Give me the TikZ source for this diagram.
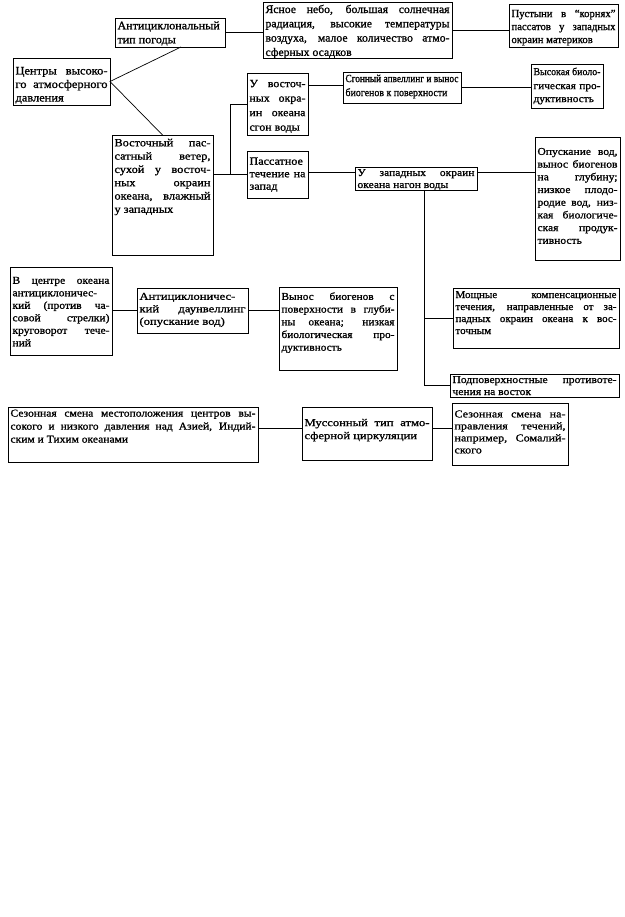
\documentclass[tikz,border=0pt]{standalone}
\usepackage{fontspec}
\setmainfont{Liberation Serif}[FakeBold=1.0]
\usetikzlibrary{calc}
\tikzset{
  bx/.style={draw, line width=0.9pt, inner xsep=2.5pt, inner ysep=0pt, outer sep=0pt},
  ln/.style={line width=0.7pt}
}
\newsavebox\lnbox
% justified line
\newcommand\JL[1]{\sbox\lnbox{\strut#1}%
  \ifdim\wd\lnbox>\linewidth\hbox to\linewidth{\resizebox{\linewidth}{\height}{\usebox\lnbox}}%
  \else\hbox to\linewidth{\strut#1}\fi}
% last line
\newcommand\LL[1]{\sbox\lnbox{\strut#1}%
  \ifdim\wd\lnbox>\linewidth\hbox to\linewidth{\resizebox{\linewidth}{\height}{\usebox\lnbox}}%
  \else\hbox{\usebox\lnbox}\fi}
% name, x, y, w, h, xscale, size, skip, lines
\newcommand\bxx[9]{%
  \node[bx,anchor=north west] (#1) at (#2,#3)
  {\scalebox{#6}[1]{\parbox[c][#5pt][t]{\fpeval{(#4-5)/#6}pt}{\fontsize{#7}{#8}\selectfont #9}}};}
\begin{document}
\begin{tikzpicture}[x=1pt,y=-1pt]
\useasboundingbox[fill=white] (0,0) rectangle (624,917);

\bxx{A}{115}{18}{110}{29}{1.05}{11.5}{14}{\kern1.5pt\JL{Антициклональный}\LL{тип погоды}}
\bxx{B}{263}{2}{189}{56}{1.02}{11.5}{14.3}{\kern1pt\JL{Ясное небо, большая солнечная}\JL{радиация, высокие температуры}\JL{воздуха, малое количество атмо-}\LL{сферных осадков}}
\bxx{C}{509}{4}{109}{43}{0.97}{11}{13}{\kern4pt\JL{Пустыни в “корнях”}\JL{пассатов у западных}\LL{окраин материков}}
\bxx{D}{13}{58}{97}{47}{1.08}{11.5}{13.5}{\kern7pt\JL{Центры высоко-}\JL{го атмосферного}\LL{давления}}
\bxx{E}{112}{135}{101}{120}{1.12}{11}{13.3}{\kern2pt\JL{Восточный пас-}\JL{сатный ветер,}\JL{сухой у восточ-}\JL{ных окраин}\JL{океана, влажный}\LL{у западных}}
\bxx{F}{247}{73}{61}{62}{1.08}{11}{14.5}{\kern4pt\JL{У восточ-}\JL{ных окра-}\JL{ин океана}\LL{сгон воды}}
\bxx{G}{247}{151}{61}{47}{1.1}{11}{12.5}{\kern5pt\JL{Пассатное}\JL{течение на}\LL{запад}}
\bxx{H}{343}{72}{118}{31}{0.9}{11}{13}{\kern1pt\JL{Сгонный апвеллинг и вынос}\LL{биогенов к поверхности}}
\bxx{I}{531}{64}{72}{44}{1.08}{10.5}{13}{\kern2pt\JL{Высокая биоло-}\JL{гическая про-}\LL{дуктивность}}
\bxx{J}{355}{167}{122}{23}{1.1}{10.5}{12}{\kern0.6pt\JL{У западных окраин}\LL{океана нагон воды}}
\bxx{K}{535}{137}{85}{123}{1.1}{10.5}{12.7}{\kern9pt\JL{Опускание вод,}\JL{вынос биогенов}\JL{на глубину;}\JL{низкое плодо-}\JL{родие вод, низ-}\JL{кая биологиче-}\JL{ская продук-}\LL{тивность}}
\bxx{L}{453}{288}{166}{60}{1.05}{10.5}{12}{\kern1.6pt\JL{Мощные компенсационные}\JL{течения, направленные от за-}\JL{падных окраин океана к вос-}\LL{точным}}
\bxx{M}{450}{374}{169}{23}{1.1}{10.5}{12}{\kern0.6pt\JL{Подповерхностные противоте-}\LL{чения на восток}}
\bxx{N}{10}{267}{102}{88}{1.1}{10.5}{12.5}{\kern8pt\JL{В центре океана}\JL{антициклоничес-}\JL{кий (против ча-}\JL{совой стрелки)}\JL{круговорот тече-}\LL{ний}}
\bxx{O}{137}{288}{111}{45}{1.2}{10.5}{12.5}{\kern3pt\JL{Антициклоничес-}\JL{кий даунвеллинг}\LL{(опускание вод)}}
\bxx{P}{279}{287}{118}{83}{1.08}{10.5}{12.7}{\kern4pt\JL{Вынос биогенов с}\JL{поверхности в глуби-}\JL{ны океана; низкая}\JL{биологическая про-}\LL{дуктивность}}
\bxx{Q}{8}{407}{250}{55}{1.1}{10.5}{13}{\kern0.5pt\JL{Сезонная смена местоположения центров вы-}\JL{сокого и низкого давления над Азией, Индий-}\LL{ским и Тихим океанами}}
\bxx{R}{302}{407}{130}{53}{1.2}{10.5}{13}{\kern10pt\JL{Муссонный тип атмо-}\LL{сферной циркуляции}}
\bxx{S}{452}{403}{116}{62}{1.15}{10.5}{12}{\kern6pt\JL{Сезонная смена на-}\JL{правления течений,}\JL{например, Сомалий-}\LL{ского}}

% connectors
\draw[ln] (A.east) -- (A.east -| B.west);
\draw[ln] (B.east) -- (B.east -| C.west);
\coordinate (dA) at ($(A.south west)!0.6!(A.south east)$);
\draw[ln] (dA) -- (D.east) -- (E.north);
\coordinate (e1) at (E.east |- G.west);
\draw[ln] (e1) -- (G.west);
\coordinate (j1) at ($(e1)!0.5!(G.west)$);
\draw[ln] (j1) |- (F.west);
\coordinate (hw) at ($(H.west)+(0,-2)$);
\draw[ln] (hw -| F.east) -- (hw);
\draw[ln] (H.east) -- (H.east -| I.west);
\coordinate (jw) at ($(J.north west)+(0,5)$);
\draw[ln] (jw -| G.east) -- (jw);
\draw[ln] (J.east |- jw) -- (jw -| K.west);
\coordinate (jb) at ($(J.south west)!0.57!(J.south east)$);
\draw[ln] (jb) |- (M.west);
\draw[ln] (jb |- L.west) -- (L.west);
\draw[ln] (N.east |- O.west) -- (O.west);
\draw[ln] (O.east) -- (O.east -| P.west);
\coordinate (rw) at ($(R.north west)+(0,21)$);
\draw[ln] (rw -| Q.east) -- (rw);
\draw[ln] (R.east |- rw) -- (rw -| S.west);
\end{tikzpicture}
\end{document}
